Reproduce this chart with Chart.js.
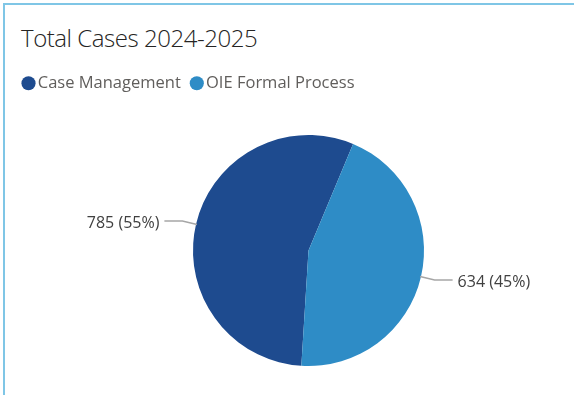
<!DOCTYPE html>
<html>
<head>
<meta charset="utf-8">
<script src="https://cdn.jsdelivr.net/npm/chart.js@4"></script>
<style>
  html, body { margin: 0; padding: 0; background: #fff; overflow: hidden; }
  body { width: 575px; height: 395px; position: relative; }
  .frame { position: absolute; left: 3px; top: 3px; right: 1px; bottom: -5px; border-top: 2px solid #7fc6e6; border-left: 2px solid #7fc6e6; }
  h1 { position: absolute; left: 21px; top: 26px; margin: 0; font: 300 24px/24px "Open Sans", sans-serif; letter-spacing: -0.45px; color: #252423; white-space: nowrap; }
  canvas { position: absolute; left: 0; top: 0; }
</style>
</head>
<body>
<div class="frame"></div>
<h1>Total Cases 2024-2025</h1>
<canvas id="pie" width="617" height="400"></canvas>
<script>
const categories = ['Case Management', 'OIE Formal Process'];
const caseCounts = [785, 634];
const sliceColors = ['#1e4b8f', '#2e8cc6'];

// value + share labels pulled out from each slice with a bent leader line
const leaderLabels = {
  id: 'leaderLabels',
  afterDatasetsDraw(chart) {
    const ctx = chart.ctx;
    const meta = chart.getDatasetMeta(0);
    const total = caseCounts.reduce((a, b) => a + b, 0);
    meta.data.forEach((arc, i) => {
      const { x, y, startAngle, endAngle, outerRadius } = arc.getProps(['x', 'y', 'startAngle', 'endAngle', 'outerRadius'], true);
      const mid = (startAngle + endAngle) / 2;
      const cos = Math.cos(mid), sin = Math.sin(mid);
      const x0 = x + cos * (outerRadius - 1), y0 = y + sin * (outerRadius - 1);
      const x1 = x + cos * (outerRadius + 14), y1 = y + sin * (outerRadius + 14);
      const right = cos >= 0;
      const x2 = x1 + (right ? 18 : -18);

      ctx.save();
      ctx.strokeStyle = '#a6a6a6';
      ctx.lineWidth = 1.5;
      ctx.beginPath();
      ctx.moveTo(x0, y0);
      ctx.lineTo(x1, y1);
      ctx.lineTo(x2, y1);
      ctx.stroke();

      const v = caseCounts[i];
      ctx.fillStyle = '#404040';
      ctx.font = '16px "Open Sans", sans-serif';
      ctx.textBaseline = 'middle';
      ctx.textAlign = right ? 'left' : 'right';
      ctx.fillText(`${v} (${Math.round(v / total * 100)}%)`, x2 + (right ? 5 : -5), y1 + 2.5);
      ctx.restore();
    });
  }
};

new Chart(document.getElementById('pie'), {
  type: 'pie',
  data: {
    labels: categories,
    datasets: [{
      data: caseCounts,
      backgroundColor: sliceColors,
      borderWidth: 0,
      radius: 115.5
    }]
  },
  options: {
    responsive: false,
    animation: false,
    rotation: 183.55,
    layout: { padding: { top: 60, left: 12.5, right: 12.5, bottom: 0.5 } },
    plugins: {
      tooltip: { enabled: false },
      legend: {
        position: 'top',
        align: 'start',
        labels: {
          usePointStyle: true,
          pointStyle: 'circle',
          boxWidth: 2,
          boxHeight: 10,
          padding: 15,
          color: '#605e5c',
          font: { family: '"Open Sans", sans-serif', size: 16.5 }
        }
      }
    }
  },
  plugins: [leaderLabels]
});
</script>
</body>
</html>
